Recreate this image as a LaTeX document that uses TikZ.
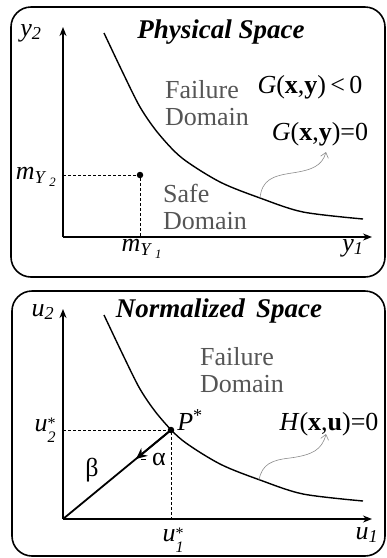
\documentclass[tikz,border=0pt]{standalone}
\usepackage{fontspec}
\setmainfont{Liberation Serif}
\usepackage{tikz}
\usetikzlibrary{calc, positioning, arrows.meta}

\definecolor{domaingray}{RGB}{85,85,85}
\definecolor{wiggle}{RGB}{140,140,140}

\newcommand{\starsub}[2]{\textit{#1}\raisebox{-0.42em}{\fontsize{16}{18}\selectfont\shortstack[l]{*\\\textit{#2}}}}

\begin{document}
\begin{tikzpicture}[
        x=1pt, y=-1pt,
        panel/.style={draw, line width=1.6pt, rounded corners=20pt},
        axis/.style={-{Stealth[length=9pt, width=7pt]}, line width=1.4pt},
        limit/.style={line width=1.4pt},
        guide/.style={densely dashed, line width=0.7pt},
        lbl/.style={inner sep=0pt, font=\fontsize{26}{27}\selectfont},
        title/.style={inner sep=0pt, font=\fontsize{27}{28}\selectfont\bfseries\itshape},
        region/.style={inner sep=0pt, align=left, anchor=west, text=domaingray, font=\fontsize{26}{27}\selectfont},
        pointer/.style={-{Straight Barb[length=5pt, width=8pt]}, draw=wiggle, line width=0.6pt},
        dot/.style={circle, fill, inner sep=0pt, minimum size=6.5pt}
    ]
        \useasboundingbox (0,0) rectangle (387,558);

        % Panels
        \draw[panel] (11,7) rectangle (385,277);
        \draw[panel] (12,291) rectangle (385,556);

        % ---------------- Physical space ----------------
        \coordinate (oA) at (63,237);
        \coordinate (yAx) at (372,237);
        \coordinate (yAy) at (63,27);
        \node[dot] (mean) at (140,175) {};

        \draw[guide] (oA |- mean) -- (mean.center) -- (mean.center |- oA);
        \draw[axis] (oA) -- (yAx);
        \draw[axis] (oA) -- (yAy);

        % limit state curve
        \draw[limit] plot[smooth] coordinates {(104,33) (123,73) (140,107) (158,133) (182,158) (220,182) (260,198) (303,212) (363,219)};

        \coordinate (gFoot) at (260,198);
        \coordinate (gTip) at (326,152);
        \draw[pointer] (gFoot) .. controls (262,180) and (272,176) .. (292,173) .. controls (312,170) and (322,166) .. (gTip);

        \node[title] (physTitle) at (221,32) {Physical Space};
        \node[lbl] (yTwo) at (31,33) {\textit{y}\textsubscript{\textit{2}}};
        \node[lbl] (yOne) at (353,248) {\textit{y}\textsubscript{\textit{1}}};
        \node[lbl, anchor=east] (mTwo) at (57,177) {\textit{m}\textsubscript{\textit{Y}\,\textsubscript{\textit{2}}}};
        \node[lbl] (mOne) at (142,249) {\textit{m}\textsubscript{\textit{Y}\,\textsubscript{\textit{1}}}};
        \node[region] (failA) at (165,103) {Failure\\Domain};
        \node[region] (safeA) at (163,207) {Safe\\Domain};
        \node[lbl] (gNeg) at (310,87) {\textit{G}(\textbf{x},\textbf{y})\,<\,0};
        \node[lbl] (gZero) at (320,134) {\textit{G}(\textbf{x},\textbf{y})=0};

        % ---------------- Normalized space ----------------
        \coordinate (oB) at (63,519);
        \coordinate (uBx) at (372,519);
        \coordinate (uBy) at (63,309);
        \node[dot] (pStar) at (171,430) {};
        \coordinate (alphaTip) at (136,459);

        \draw[guide] (oB |- pStar) -- (pStar.center) -- (pStar.center |- oB);
        \draw[axis] (oB) -- (uBx);
        \draw[axis] (oB) -- (uBy);

        % reliability index
        \draw[line width=1.8pt] (oB) -- (pStar.center);
        \draw[-{Stealth[length=11pt, width=10pt]}, line width=1.8pt] (pStar.center) -- (alphaTip);
        \draw[line width=0.6pt] ([xshift=5pt]alphaTip) -- ([xshift=10pt]alphaTip);

        % limit state curve
        \draw[limit] plot[smooth] coordinates {(104,315) (123,355) (140,389) (158,415) (182,440) (220,464) (260,480) (303,494) (363,501)};

        \coordinate (hFoot) at (259,480);
        \coordinate (hTip) at (326,434);
        \draw[pointer] (hFoot) .. controls (262,464) and (272,460) .. (290,458) .. controls (312,455) and (322,450) .. (hTip);

        \node[title] (normTitle) at (219,311) {Normalized\, Space};
        \node[lbl] (uTwo) at (43,312) {\textit{u}\textsubscript{\textit{2}}};
        \node[lbl] (uOne) at (367,535) {\textit{u}\textsubscript{\textit{1}}};
        \node[lbl] (uTwoStar) at (45,430) {\starsub{u}{2}};
        \node[lbl] (uOneStar) at (173,540) {\starsub{u}{1}};
        \node[lbl] (pLabel) at (190,420) {\textit{P}\textsuperscript{*}};
        \node[lbl] (beta) at (92,470) {β};
        \node[lbl] (alpha) at (159,459) {α};
        \node[region] (failB) at (200,370) {Failure\\Domain};
        \node[lbl] (hZero) at (329,424) {\textit{H}(\textbf{x},\textbf{u})=0};

    \end{tikzpicture}
\end{document}
